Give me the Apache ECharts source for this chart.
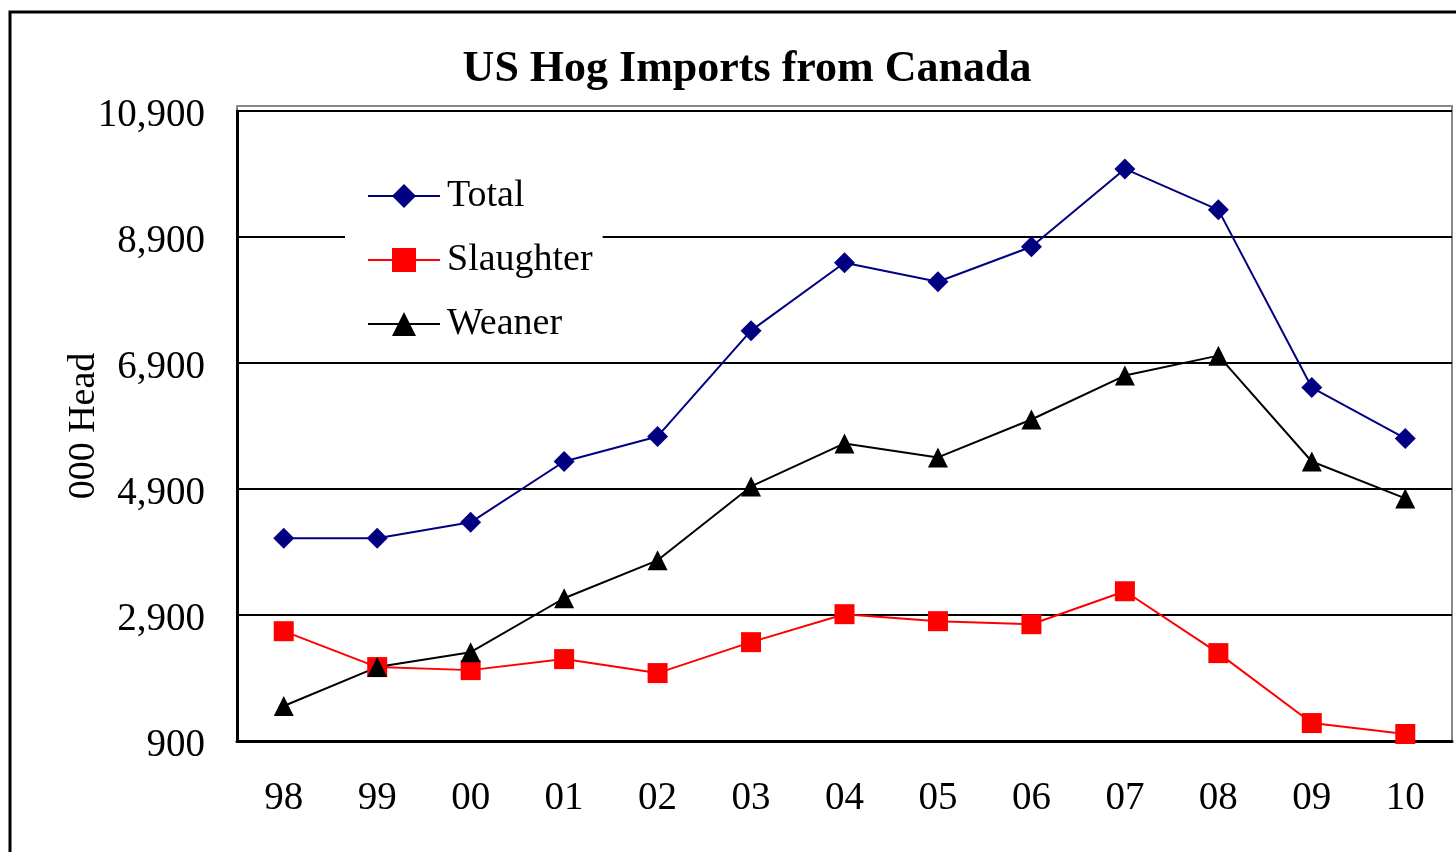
<!DOCTYPE html>
<html>
<head>
<meta charset="utf-8">
<script src="https://cdn.jsdelivr.net/npm/echarts@6/dist/echarts.min.js"></script>
<style>
  html, body { margin: 0; padding: 0; background: #fff; }
  #chart { width: 1456px; height: 852px; }
</style>
</head>
<body>
<div id="chart"></div>
<script>
// Years (two-digit labels)
const years = ['98', '99', '00', '01', '02', '03', '04', '05', '06', '07', '08', '09', '10'];
// Imports, thousand head
const total     = [4117, 4117, 4371, 5337, 5734, 7413, 8491, 8190, 8745, 9981, 9331, 6510, 5702];
const slaughter = [2643, 2073, 2025, 2200, 1978, 2469, 2913, 2802, 2754, 3277, 2295, 1185, 1011];
const weaner    = [1455, 2073, 2310, 3166, 3768, 4941, 5623, 5401, 6003, 6700, 7017, 5337, 4751];

const FONT = '"Liberation Serif", "Times New Roman", serif';

const chart = echarts.init(document.getElementById('chart'));

chart.setOption({
  animation: false,
  backgroundColor: '#fff',
  title: {
    text: 'US Hog Imports from Canada',
    left: 742,
    textAlign: 'center',
    top: 43,
    textStyle: { fontFamily: FONT, fontWeight: 'bold', fontSize: 44, color: '#000' }
  },
  grid: { left: 237, right: 4, top: 111, bottom: 111, containLabel: false },
  legend: {
    orient: 'vertical',
    left: 345,
    top: 171,
    backgroundColor: '#fff',
    padding: [6, 10, 6, 22],
    itemWidth: 72,
    itemHeight: 30,
    itemGap: 26,
    textStyle: { fontFamily: FONT, fontSize: 38, color: '#000', lineHeight: 38, padding: [0, 0, 0, 2] },
    data: ['Total', 'Slaughter', 'Weaner']
  },
  xAxis: {
    type: 'category',
    data: years,
    boundaryGap: true,
    axisLine: { lineStyle: { color: '#000', width: 3 } },
    axisTick: { show: false },
    axisLabel: { fontFamily: FONT, fontSize: 39, color: '#000', margin: 38 },
    splitLine: { show: false }
  },
  yAxis: {
    type: 'value',
    min: 900,
    max: 10900,
    interval: 2000,
    name: '000 Head',
    nameLocation: 'middle',
    nameGap: 134,
    nameRotate: 90,
    nameMoveOverlap: false,
    nameTextStyle: { fontFamily: FONT, fontSize: 38, color: '#000' },
    axisLine: { show: true, lineStyle: { color: '#000', width: 3 } },
    axisTick: { show: false },
    axisLabel: {
      margin: 32,
      formatter: v => '{v|' + v.toLocaleString('en-US') + '}',
      rich: {
        v: { fontFamily: FONT, fontSize: 39, color: '#000', padding: [10, 0, 0, 0] }
      }
    },
    splitLine: { show: true, lineStyle: { color: '#000', width: 2 } }
  },
  graphic: [
    {
      // outer chart frame
      type: 'rect', silent: true, z: -1,
      shape: { x: 10, y: 12, width: 1500, height: 900 },
      style: { fill: 'none', stroke: '#000', lineWidth: 3 }
    },
    {
      // plot area border
      type: 'rect', silent: true, z: -1,
      shape: { x: 237, y: 106, width: 1215, height: 635 },
      style: { fill: 'none', stroke: '#888', lineWidth: 2 }
    }
  ],
  series: [
    {
      name: 'Total', type: 'line', data: total,
      symbol: 'diamond', symbolSize: 21,
      itemStyle: { color: '#000080' },
      lineStyle: { color: '#000080', width: 2 }
    },
    {
      name: 'Slaughter', type: 'line', data: slaughter,
      symbol: 'rect', symbolSize: 20,
      itemStyle: { color: '#ff0000' },
      lineStyle: { color: '#ff0000', width: 2 }
    },
    {
      name: 'Weaner', type: 'line', data: weaner,
      symbol: 'triangle', symbolSize: 20,
      itemStyle: { color: '#000' },
      lineStyle: { color: '#000', width: 2 }
    }
  ]
});
</script>
</body>
</html>
